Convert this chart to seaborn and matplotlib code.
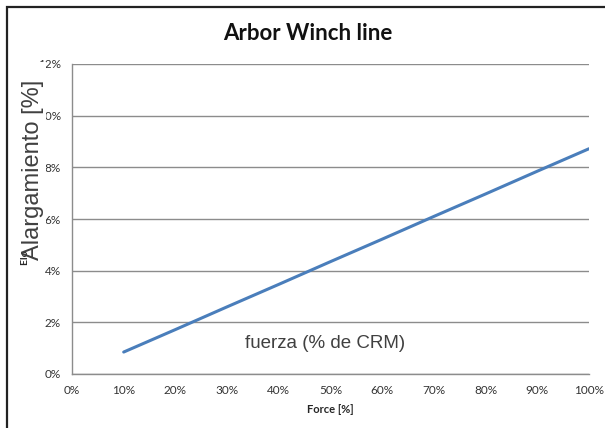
import matplotlib
matplotlib.use("Agg")
import matplotlib.pyplot as plt
from matplotlib.patches import Rectangle
from matplotlib.ticker import FuncFormatter, MultipleLocator
import seaborn as sns
import pandas as pd

# Force applied (% of breaking load) and resulting elongation (%)
force_pct = [10, 20, 30, 40, 50, 60, 70, 80, 90, 100]
elongation_pct = [0.85, 1.72, 2.60, 3.47, 4.35, 5.22, 6.10, 6.97, 7.85, 8.72]

title_text = "Arbor Winch line"
x_label = "Force [%]"
y_label = "Elongation [%]"
y_label_es = "Alargamiento [%]"
x_label_es = "fuerza (% de CRM)"

sns.set_theme(style="white")
plt.rcParams["font.family"] = ["Lato", "DejaVu Sans"]

df = pd.DataFrame({"force": force_pct, "elong": elongation_pct})

W, H = 605, 428
fig = plt.figure(figsize=(W / 100, H / 100), dpi=100)
ax = fig.add_axes([72 / W, 1 - 374 / H, (589 - 72) / W, (374 - 64) / H])

sns.lineplot(data=df, x="force", y="elong", ax=ax, color="#4A7EBB", linewidth=2.2)

ax.set_xlim(0, 100)
ax.set_ylim(0, 12)
ax.xaxis.set_major_locator(MultipleLocator(10))
ax.yaxis.set_major_locator(MultipleLocator(2))
ax.xaxis.set_major_formatter(FuncFormatter(lambda v, _: f"{v:.0f}%"))
ax.yaxis.set_major_formatter(FuncFormatter(lambda v, _: f"{v:.0f}%"))
ax.tick_params(axis="both", labelsize=8.5, colors="#333333", length=0, pad=8)
ax.grid(axis="y", color="#8C8C8C", linewidth=1.0)
ax.set_axisbelow(True)
for s in ["top", "right"]:
    ax.spines[s].set_visible(False)
for s in ["left", "bottom"]:
    ax.spines[s].set_color("#8C8C8C")
    ax.spines[s].set_linewidth(1.0)

ax.set_xlabel(x_label, fontsize=8, fontweight="bold", labelpad=6)
ax.set_ylabel(y_label, fontsize=7.5, fontweight="bold")
ax.yaxis.set_label_coords((30 - 72) / 517, (374 - 231) / 310)

fig.text(308 / W, 1 - 33 / H, title_text, ha="center", va="center",
         fontsize=16, fontweight="bold", color="#111111")

# White patch under the Spanish axis label
fig.patches.append(Rectangle((15 / W, 1 - 252 / H), 31 / W, 190 / H,
                             transform=fig.transFigure, facecolor="white",
                             edgecolor="none", zorder=1))

# Spanish overlay labels
fig.text(33 / W, 1 - 170 / H, y_label_es, rotation=90, ha="center", va="center",
         fontsize=17, color="#404040", family=["Liberation Sans", "DejaVu Sans"],
         zorder=3)
fig.text(325 / W, 1 - 344 / H, x_label_es, ha="center", va="center",
         fontsize=13.5, color="#404040", family=["Liberation Sans", "DejaVu Sans"])

# Outer chart frame
fig.patches.append(Rectangle((7 / W, -0.01), 1.0, 1 - 7 / H + 0.01,
                             transform=fig.transFigure, fill=False,
                             edgecolor="#222222", linewidth=1.6, zorder=2))

fig.savefig("out.png", dpi=100)
